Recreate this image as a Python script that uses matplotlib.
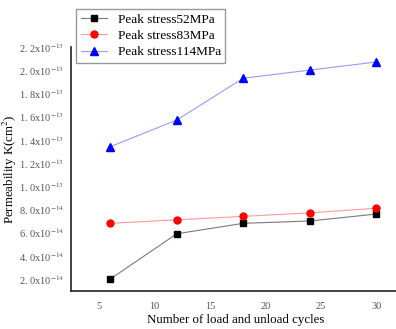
import matplotlib
matplotlib.use("Agg")
import matplotlib.pyplot as plt
from matplotlib.ticker import MultipleLocator, FuncFormatter

plt.rcParams['font.family'] = ['Liberation Serif', 'DejaVu Serif']
plt.rcParams['mathtext.fontset'] = 'stix'

cycles = [6, 12, 18, 24, 30]
k_52 = [2.0e-14, 5.9e-14, 6.8e-14, 7.0e-14, 7.6e-14]
k_83 = [6.8e-14, 7.1e-14, 7.4e-14, 7.7e-14, 8.1e-14]
k_114 = [1.34e-13, 1.57e-13, 1.93e-13, 2.0e-13, 2.07e-13]
labels = ['Peak stress52MPa', 'Peak stress83MPa', 'Peak stress114MPa']


def sci_fmt(v, pos):
    if v <= 0:
        return ''
    s = f'{v:.1e}'
    mant, exp = s.split('e')
    mant = mant.replace('.', '. ')
    return mant + 'x10$^{' + str(int(exp)) + '}$'


fig = plt.figure(figsize=(3.96, 3.29), dpi=100)
ax = fig.add_axes([0.179, 0.1155, 0.83, 0.742])

ax.plot(cycles, k_52, color='#7a7a7a', lw=0.8, marker='s', ms=4.2,
        mfc='black', mec='black', label=labels[0])
ax.plot(cycles, k_83, color='#ff9a9a', lw=0.8, marker='o', ms=5,
        mfc='red', mec='red', label=labels[1])
ax.plot(cycles, k_114, color='#9a9aff', lw=0.8, marker='^', ms=5.2,
        mfc='blue', mec='blue', label=labels[2])

ax.set_xlim(2.45, 32.1)
ax.set_ylim(0.97e-14, 2.2e-13)
ax.xaxis.set_major_locator(MultipleLocator(5))
ax.yaxis.set_major_locator(MultipleLocator(2e-14))
ax.yaxis.set_major_formatter(FuncFormatter(sci_fmt))
ax.tick_params(length=0, labelsize=7.5, labelcolor='#555555')
ax.tick_params(axis='x', pad=8)
ax.tick_params(axis='y', pad=5)

for side in ['top', 'right']:
    ax.spines[side].set_visible(False)
for side in ['left', 'bottom']:
    ax.spines[side].set_linewidth(1.2)
    ax.spines[side].set_color('#222222')

ax.set_xlabel('Number of load and unload cycles', fontsize=9.3)
ax.set_ylabel('Permeability K(cm$^2$)', fontsize=9.3)
ax.yaxis.set_label_coords(-0.158, 0.5)
ax.xaxis.set_label_coords(0.5, -0.095)

fig.legend(loc='upper left', bbox_to_anchor=(0.192, 0.973), fontsize=9.5,
           frameon=True, fancybox=False, edgecolor='#999999', framealpha=1,
           handlelength=2.0, labelspacing=0.3, borderpad=0.35, borderaxespad=0)

plt.savefig('out.png', dpi=100)
